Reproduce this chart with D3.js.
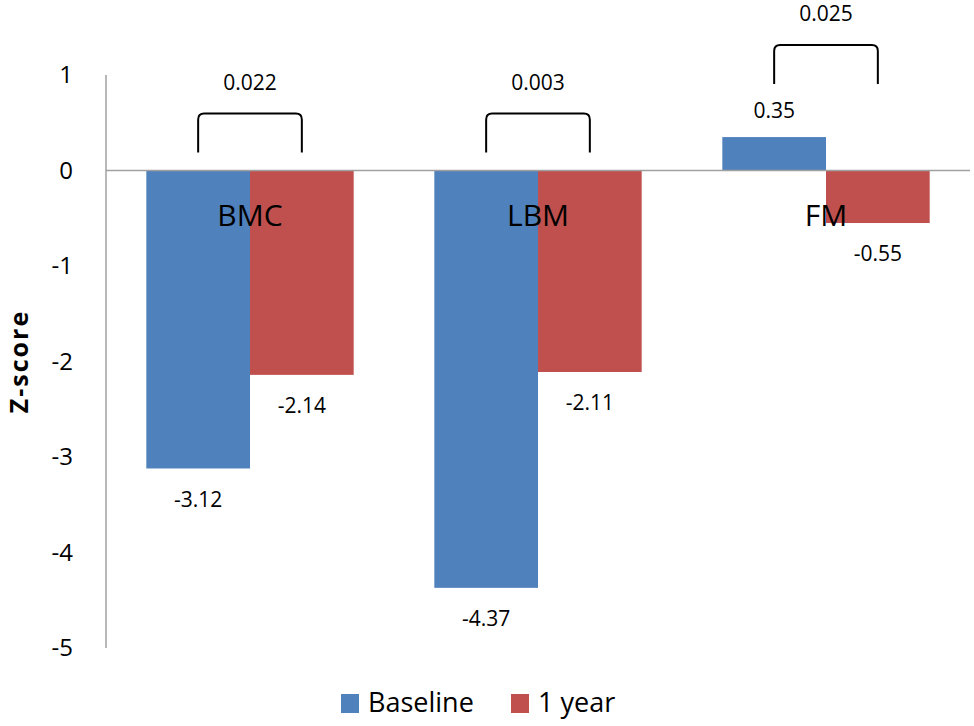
<!DOCTYPE html>
<html>
<head>
<meta charset="utf-8">
<script src="https://cdn.jsdelivr.net/npm/d3@7"></script>
<style>
  body { margin: 0; background: #fff; }
  text { font-family: "Open Sans", "Noto Sans", sans-serif; fill: #000; }
</style>
</head>
<body>
<div id="chart"></div>
<script>
//data
const categories = ['BMC', 'LBM', 'FM']
const seriesNames = ['Baseline', '1 year']
const baseline = [-3.12, -4.37, 0.35]
const oneYear = [-2.14, -2.11, -0.55]
const pValues = ['0.022', '0.003', '0.025']
const yTicks = [1, 0, -1, -2, -3, -4, -5]

const colors = ['#4F81BD', '#C0504D']

//dimensions
const dimensions = {
  width: 974,
  height: 726,
  left: 106,
  right: 970,
  top: 75,
  bottom: 648,
}

const svg = d3.select('#chart')
  .append('svg')
  .attr('width', dimensions.width)
  .attr('height', dimensions.height)

//scales
const x = d3.scaleBand()
  .domain(categories)
  .range([dimensions.left, dimensions.right])
  .paddingInner(0.28)
  .paddingOuter(0.14)

const xSub = d3.scaleBand()
  .domain(seriesNames)
  .range([0, x.bandwidth()])

const y = d3.scaleLinear()
  .domain([1, -5])
  .range([dimensions.top, dimensions.bottom])

const rows = categories.map((c, i) => ({
  cat: c,
  values: [baseline[i], oneYear[i]],
  p: pValues[i],
}))

//axis line
svg.append('line')
  .attr('x1', dimensions.left).attr('x2', dimensions.left)
  .attr('y1', y(1)).attr('y2', y(-5))
  .attr('stroke', '#a0a0a0').attr('stroke-width', 1.5)

//tick labels
svg.append('g')
  .selectAll('text')
  .data(yTicks)
  .join('text')
  .attr('x', 73)
  .attr('y', d => y(d))
  .attr('dy', '0.35em')
  .attr('text-anchor', 'end')
  .attr('font-size', 24)
  .text(d => d)

svg.append('text')
  .attr('transform', `translate(28,${(y(1) + y(-5)) / 2}) rotate(-90)`)
  .attr('text-anchor', 'middle')
  .attr('font-size', 25)
  .attr('font-weight', 'bold')
  .attr('letter-spacing', 2)
  .text('Z-score')

//bars
const groups = svg.append('g')
  .selectAll('g')
  .data(rows)
  .join('g')
  .attr('transform', d => `translate(${x(d.cat)},0)`)

groups.selectAll('rect')
  .data(d => d.values.map((v, i) => ({ v, s: seriesNames[i], i })))
  .join('rect')
  .attr('x', d => xSub(d.s))
  .attr('width', xSub.bandwidth())
  .attr('y', d => y(Math.max(0, d.v)))
  .attr('height', d => Math.abs(y(d.v) - y(0)))
  .attr('fill', d => colors[d.i])

//zero line
svg.append('line')
  .attr('x1', dimensions.left).attr('x2', dimensions.right)
  .attr('y1', y(0)).attr('y2', y(0))
  .attr('stroke', '#a0a0a0').attr('stroke-width', 1.5)

//value labels
groups.selectAll('text.val')
  .data(d => d.values.map((v, i) => ({ v, s: seriesNames[i] })))
  .join('text')
  .attr('class', 'val')
  .attr('x', d => xSub(d.s) + xSub.bandwidth() / 2)
  .attr('y', d => d.v < 0 ? y(d.v) + 31 : y(d.v) - 26)
  .attr('dy', '0.35em')
  .attr('text-anchor', 'middle')
  .attr('font-size', 21)
  .text(d => d.v.toFixed(2))

//category labels
groups.append('text')
  .attr('x', x.bandwidth() / 2)
  .attr('y', y(0) + 45)
  .attr('dy', '0.35em')
  .attr('text-anchor', 'middle')
  .attr('font-size', 30)
  .text(d => d.cat)

//brackets with p-values
const r = 6
groups.each(function(d) {
  const g = d3.select(this)
  const top = Math.max(0, ...d.values)
  const bottom = y(top) - (top > 0 ? 53 : 18)
  const up = bottom - 39
  const x1 = xSub(seriesNames[0]) + xSub.bandwidth() / 2
  const x2 = xSub(seriesNames[1]) + xSub.bandwidth() / 2
  g.append('path')
    .attr('d', `M${x1},${bottom} L${x1},${up + r} Q${x1},${up} ${x1 + r},${up} L${x2 - r},${up} Q${x2},${up} ${x2},${up + r} L${x2},${bottom}`)
    .attr('fill', 'none')
    .attr('stroke', '#000')
    .attr('stroke-width', 2)
  g.append('text')
    .attr('x', (x1 + x2) / 2)
    .attr('y', up - 31)
    .attr('dy', '0.35em')
    .attr('text-anchor', 'middle')
    .attr('font-size', 21)
    .text(d.p)
})

//legend
const legend = svg.append('g')
  .attr('transform', 'translate(341,703)')

const legendX = [0, 170]
const items = legend.selectAll('g')
  .data(seriesNames)
  .join('g')
  .attr('transform', (d, i) => `translate(${legendX[i]},0)`)

items.append('rect')
  .attr('x', 0).attr('y', -9)
  .attr('width', 18).attr('height', 19)
  .attr('fill', (d, i) => colors[i])

items.append('text')
  .attr('x', 27)
  .attr('y', 0)
  .attr('dy', '0.35em')
  .attr('font-size', 27)
  .text(d => d)
</script>
</body>
</html>
